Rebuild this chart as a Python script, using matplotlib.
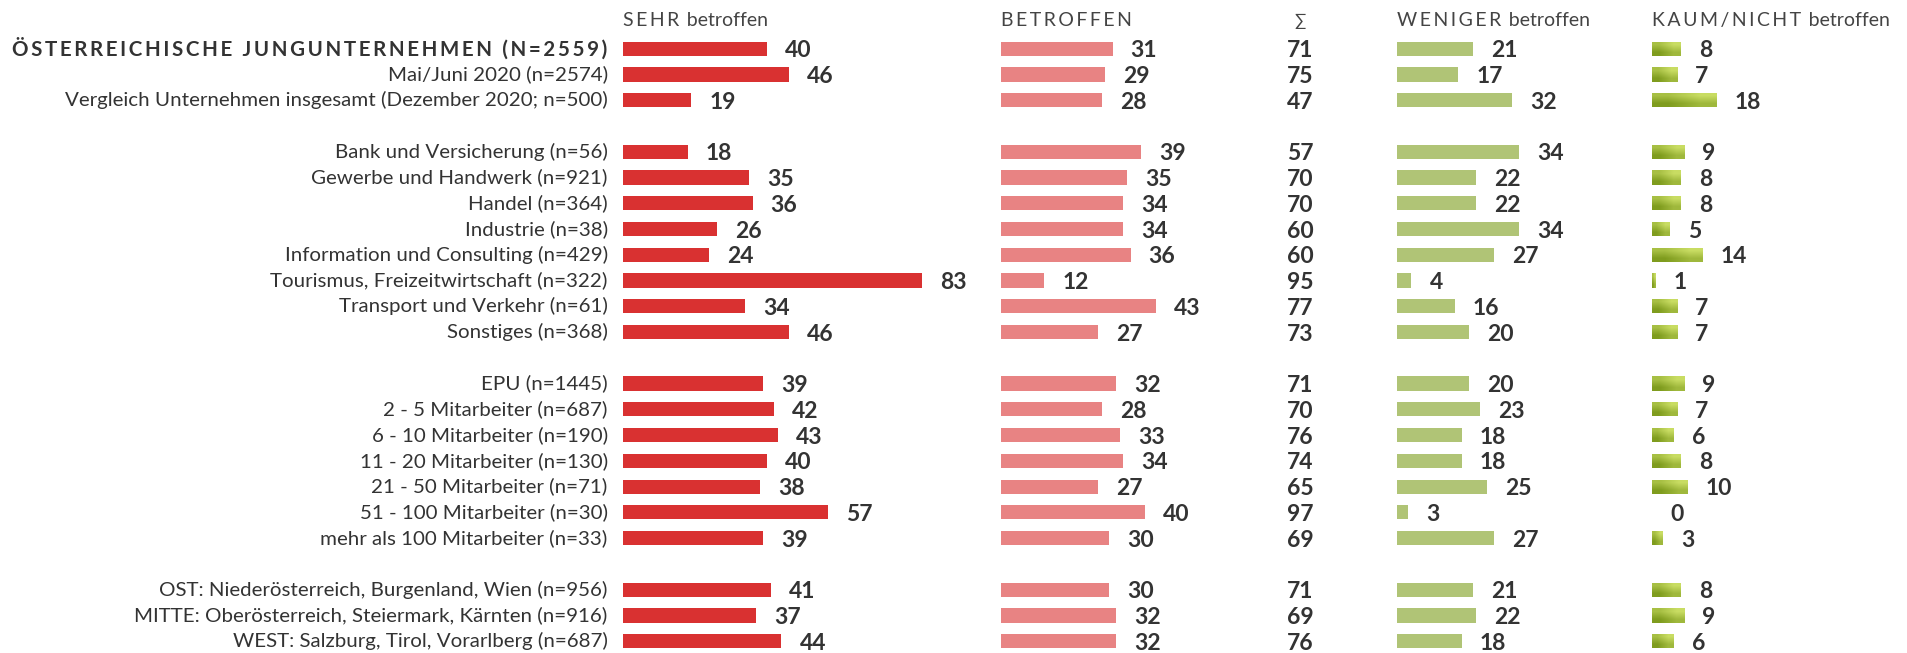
import numpy as np
import matplotlib
matplotlib.use("Agg")
import matplotlib.pyplot as plt
from matplotlib.colors import LinearSegmentedColormap

plt.rcParams['font.family'] = ['Lato', 'DejaVu Sans']

# ---- data ----
groups = [
    ["ÖSTERREICHISCHE JUNGUNTERNEHMEN (N=2559)",
     "Mai/Juni 2020 (n=2574)",
     "Vergleich Unternehmen insgesamt (Dezember 2020; n=500)"],
    ["Bank und Versicherung (n=56)",
     "Gewerbe und Handwerk (n=921)",
     "Handel (n=364)",
     "Industrie (n=38)",
     "Information und Consulting (n=429)",
     "Tourismus, Freizeitwirtschaft (n=322)",
     "Transport und Verkehr (n=61)",
     "Sonstiges (n=368)"],
    ["EPU (n=1445)",
     "2 - 5 Mitarbeiter (n=687)",
     "6 - 10 Mitarbeiter (n=190)",
     "11 - 20 Mitarbeiter (n=130)",
     "21 - 50 Mitarbeiter (n=71)",
     "51 - 100 Mitarbeiter (n=30)",
     "mehr als 100 Mitarbeiter (n=33)"],
    ["OST: Niederösterreich, Burgenland, Wien (n=956)",
     "MITTE: Oberösterreich, Steiermark, Kärnten (n=916)",
     "WEST: Salzburg, Tirol, Vorarlberg (n=687)"],
]
sehr = [40, 46, 19, 18, 35, 36, 26, 24, 83, 34, 46, 39, 42, 43, 40, 38, 57, 39, 41, 37, 44]
betroffen = [31, 29, 28, 39, 35, 34, 34, 36, 12, 43, 27, 32, 28, 33, 34, 27, 40, 30, 30, 32, 32]
summe = [71, 75, 47, 57, 70, 70, 60, 60, 95, 77, 73, 71, 70, 76, 74, 65, 97, 69, 71, 69, 76]
weniger = [21, 17, 32, 34, 22, 22, 34, 27, 4, 16, 20, 20, 23, 18, 18, 25, 3, 27, 21, 22, 18]
kaum = [8, 7, 18, 9, 8, 8, 5, 14, 1, 7, 7, 9, 7, 6, 8, 10, 0, 3, 8, 9, 6]

TEXT = "#333333"
HEAD = "#444444"
W, H = 1908, 653
PX_PER_UNIT = 3.6
ROW_PX = 25.76
ROW0_PX = 48.7
LABEL_FS = 14.75
VALUE_FS = 16.5
HEAD_FS = 14


def spaced(s, sep="\u2009"):
    return sep.join(s)


def head(caps, rest=""):
    txt = spaced(caps)
    if rest:
        txt += "\u2009 " + rest
    return txt


# row positions: one blank row between groups
labels, ypos = [], []
r = 0
for g in groups:
    for lab in g:
        labels.append(lab)
        ypos.append(r)
        r += 1
    r += 1
ypos = np.array(ypos)

ylim = ((H - ROW0_PX) / ROW_PX, -ROW0_PX / ROW_PX)
header_y = (20.7 - ROW0_PX) / ROW_PX

fig = plt.figure(figsize=(W / 100, H / 100), dpi=100)


def make_ax(left_px, width_px=330):
    ax = fig.add_axes([left_px / W, 0, width_px / W, 1])
    ax.set_xlim(0, width_px / PX_PER_UNIT)
    ax.set_ylim(*ylim)
    ax.axis("off")
    return ax


def value_labels(ax, vals):
    for v, y in zip(vals, ypos):
        ax.annotate(str(v), (v, y), xytext=(13, 0), textcoords="offset points",
                    ha="left", va="center_baseline", fontsize=VALUE_FS,
                    fontweight="bold", color=TEXT, annotation_clip=False)


bar_h = 0.55

# SEHR betroffen
ax1 = make_ax(623)
ax1.barh(ypos, sehr, height=bar_h, color="#d93131")
value_labels(ax1, sehr)
for i, (lab, y) in enumerate(zip(labels, ypos)):
    if i == 0:
        ax1.annotate(spaced(lab), (0, y), xytext=(-11, 0),
                     textcoords="offset points", ha="right", va="center",
                     fontsize=14.75, fontweight="bold", color=TEXT,
                     annotation_clip=False)
    else:
        ax1.annotate(lab, (0, y), xytext=(-11, 0), textcoords="offset points",
                     ha="right", va="center", fontsize=LABEL_FS, color=TEXT,
                     annotation_clip=False)
ax1.text(0, header_y, head("SEHR", "betroffen"), ha="left", va="center",
         fontsize=HEAD_FS, color=HEAD)

# BETROFFEN
ax2 = make_ax(1001)
ax2.barh(ypos, betroffen, height=bar_h, color="#e88383")
value_labels(ax2, betroffen)
ax2.text(0, header_y, head("BETROFFEN"), ha="left", va="center",
         fontsize=HEAD_FS, color=HEAD)

# Summe
ax_s = make_ax(1250, 100)
cx = 50 / PX_PER_UNIT
for v, y in zip(summe, ypos):
    ax_s.text(cx, y, str(v), ha="center", va="center_baseline", fontsize=VALUE_FS,
              fontweight="bold", color=TEXT)
ax_s.text(cx, header_y, "∑", ha="center", va="center", fontsize=12, color=HEAD)

# WENIGER betroffen
ax3 = make_ax(1397)
ax3.barh(ypos, weniger, height=bar_h, color="#b0c476")
value_labels(ax3, weniger)
ax3.text(0, header_y, head("WENIGER", "betroffen"), ha="left", va="center",
         fontsize=HEAD_FS, color=HEAD)

# KAUM/NICHT betroffen (gradient bars)
ax4 = make_ax(1652, 250)
cmap = LinearSegmentedColormap.from_list("olive", ["#7f9c1e", "#c8dc62"])
grad = np.array([[0.55, 1.0], [0.0, 0.45]])
bars = ax4.barh(ypos, kaum, height=bar_h, color="none")
for b, v, y in zip(bars, kaum, ypos):
    if v <= 0:
        continue
    im = ax4.imshow(grad, cmap=cmap, interpolation="bilinear", aspect="auto",
                    extent=(0, v, y + bar_h / 2, y - bar_h / 2), origin="upper")
    im.set_clip_path(b)
ax4.set_xlim(0, 250 / PX_PER_UNIT)
ax4.set_ylim(*ylim)
value_labels(ax4, kaum)
ax4.text(0, header_y, head("KAUM/NICHT", "betroffen"), ha="left", va="center",
         fontsize=HEAD_FS, color=HEAD)

fig.savefig("out.png", dpi=100)
